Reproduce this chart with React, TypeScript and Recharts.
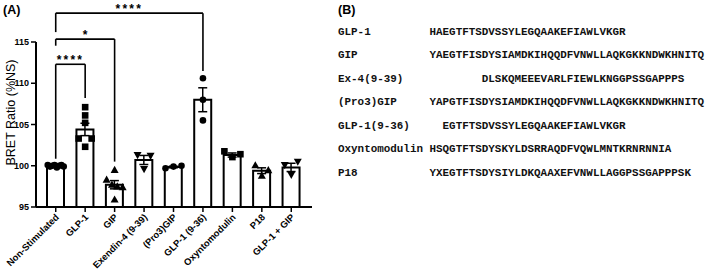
import React from 'react';
import { ComposedChart, Bar, ErrorBar, Scatter, XAxis, YAxis, ReferenceLine } from 'recharts';

// ---------- Panel A data ----------
const categories = [
  'Non-Stimulated',
  'GLP-1',
  'GIP',
  'Exendin-4 (9-39)',
  '(Pro3)GIP',
  'GLP-1 (9-36)',
  'Oxyntomodulin',
  'P18',
  'GLP-1 + GIP',
];
const means = [100.0, 104.4, 97.7, 100.7, 99.85, 108.0, 101.3, 99.4, 99.8];
const sems = [0.05, 0.75, 0.5, 0.55, 0.1, 1.45, 0.25, 0.35, 0.5];

// individual replicates (listed left-to-right as they appear)
const nonStimPoints = [100.1, 99.9, 100.0, 100.1, 99.8, 100.0, 100.1, 99.9];
const glp1Points = [107.1, 106.1, 105.2, 103.3, 103.3, 102.3];
const gipPoints = [98.3, 97.7, 99.5, 97.5, 97.4, 95.9];
const exendinPoints = [101.3, 99.6, 101.2];
const pro3GipPoints = [99.7, 99.9, 100.0];
const glp1_9_36Points = [110.6, 108.0, 105.5];
const oxyntomodulinPoints = [101.75, 101.05, 101.4];
const p18Points = [100.05, 98.8, 99.45];
const glp1GipPoints = [100.1, 98.9, 100.5];

const pointSets = [
  nonStimPoints,
  glp1Points,
  gipPoints,
  exendinPoints,
  pro3GipPoints,
  glp1_9_36Points,
  oxyntomodulinPoints,
  p18Points,
  glp1GipPoints,
];
const markerKinds = ['circle', 'square', 'triangle', 'triangleDown', 'circle', 'circle', 'square', 'triangle', 'triangleDown'];

const yTicks = [95, 100, 105, 110, 115];

// significance annotations (data units)
const bracketFrom = ['Non-Stimulated', 'Non-Stimulated', 'Non-Stimulated'];
const bracketTo = ['GLP-1 (9-36)', 'GIP', 'GLP-1'];
const bracketLevel = [118.5, 115.35, 112.3];
const bracketLeftEnd = [116.2, 114.55, 100.85];
const bracketRightEnd = [111.5, 100.5, 108.2];
const bracketText = ['****', '*', '****'];

// ---------- Panel B data ----------
const peptideNames = ['GLP-1', 'GIP', 'Ex-4(9-39)', '(Pro3)GIP', 'GLP-1(9-36)', 'Oxyntomodulin', 'P18'];
const peptideSeqs = [
  'HAEGTFTSDVSSYLEGQAAKEFIAWLVKGR',
  'YAEGTFISDYSIAMDKIHQQDFVNWLLAQKGKKNDWKHNITQ',
  'DLSKQMEEEVARLFIEWLKNGGPSSGAPPPS',
  'YAPGTFISDYSIAMDKIHQQDFVNWLLAQKGKKNDWKHNITQ',
  'EGTFTSDVSSYLEGQAAKEFIAWLVKGR',
  'HSQGTFTSDYSKYLDSRRAQDFVQWLMNTKRNRNNIA',
  'YXEGTFTSDYSIYLDKQAAXEFVNWLLAGGPSSGAPPPSK',
];
const alignGaps = [0, 0, 8, 0, 2, 0, 0];

// ---------- helpers ----------
const SANS = '"Liberation Sans", Arial, Helvetica, sans-serif';
const MONO = '"Liberation Mono", "Courier New", monospace';

// horizontal spread of replicates that share a similar value (beeswarm-like)
function spreadOffsets(vals: number[], step = 13, maxHalf = 8, tol = 0.62): number[] {
  const idx = vals.map((_, i) => i).sort((a, b) => vals[a] - vals[b]);
  const rows: number[][] = [];
  let cur: number[] = [];
  idx.forEach((i) => {
    if (cur.length && vals[i] - vals[cur[cur.length - 1]] > tol) {
      rows.push(cur);
      cur = [];
    }
    cur.push(i);
  });
  if (cur.length) rows.push(cur);
  const off = new Array(vals.length).fill(0);
  rows.forEach((r) => {
    const n = r.length;
    if (n < 2) return;
    const s = Math.min(step, (2 * maxHalf) / (n - 1));
    const ordered = [...r].sort((a, b) => a - b);
    ordered.forEach((i, k) => {
      off[i] = (k - (n - 1) / 2) * s;
    });
  });
  return off;
}

const summary = categories.map((name, i) => ({ name, mean: means[i], sem: sems[i] }));
const scatterSets = pointSets.map((vals, i) => {
  const offs = spreadOffsets(vals);
  return vals.map((v, j) => ({ name: categories[i], value: v, dx: offs[j] }));
});

const makeShape = (kind: string) => (p: any) => {
  if (p.cx == null || p.cy == null) return <g />;
  const cx = p.cx + (p.payload?.dx ?? 0);
  const cy = p.cy;
  if (kind === 'circle') return <circle cx={cx} cy={cy} r={3.3} fill="#000" />;
  if (kind === 'square') return <rect x={cx - 3.3} y={cy - 3.3} width={6.6} height={6.6} fill="#000" />;
  if (kind === 'triangle')
    return <polygon points={`${cx},${cy - 4.2} ${cx - 4},${cy + 3} ${cx + 4},${cy + 3}`} fill="#000" />;
  return <polygon points={`${cx},${cy + 4.2} ${cx - 4},${cy - 3} ${cx + 4},${cy - 3}`} fill="#000" />;
};

const XTick = (props: any) => {
  const { x, y, payload } = props;
  return (
    <g transform={`translate(${x + 1.5},${y + 1.5})`}>
      <text
        transform="rotate(-45)"
        textAnchor="end"
        dy="0.35em"
        fontSize={9.4}
        fontWeight="bold"
        fontFamily={SANS}
        fill="#000"
      >
        {payload.value}
      </text>
    </g>
  );
};

const makeBracketLabel = (txt: string) => (props: any) => {
  const vb = props.viewBox;
  if (!vb) return null;
  return (
    <text
      x={vb.x + vb.width / 2}
      y={vb.y - 0.5}
      textAnchor="middle"
      fontSize={12}
      fontWeight="bold"
      letterSpacing={txt.length > 1 ? 2.2 : 0}
      fontFamily={SANS}
      fill="#000"
    >
      {txt}
    </text>
  );
};

export default function App() {
  const lineStyle = { stroke: '#000', strokeWidth: 1.6 };
  return (
    <div style={{ position: 'absolute', left: 0, top: 0, width: 709, height: 270, background: '#fff', overflow: 'hidden' }}>
      <div style={{ position: 'absolute', left: 0, top: 0 }}>
        <ComposedChart width={330} height={270} data={summary} margin={{ top: 42, right: 18, bottom: 0, left: 0 }}>
          <XAxis
            dataKey="name"
            type="category"
            allowDuplicatedCategory={false}
            height={63}
            padding={{ left: 5, right: 6 }}
            axisLine={{ stroke: '#000', strokeWidth: 2 }}
            tickLine={{ stroke: '#000', strokeWidth: 1.5 }}
            tickSize={5}
            interval={0}
            tick={<XTick />}
          />
          <YAxis
            type="number"
            domain={[95, 115]}
            ticks={yTicks}
            allowDataOverflow
            width={36}
            axisLine={{ stroke: '#000', strokeWidth: 2 }}
            tickLine={{ stroke: '#000', strokeWidth: 1.5 }}
            tickSize={5}
            tick={{ fontSize: 9, fontWeight: 'bold', fill: '#000', fontFamily: SANS }}
          />
          <Bar
            dataKey="mean"
            fill="#fff"
            stroke="#000"
            strokeWidth={2}
            barSize={17}
            isAnimationActive={false}
          >
            <ErrorBar dataKey="sem" width={4.5} stroke="#000" strokeWidth={1.5} direction="y" />
          </Bar>
          {scatterSets.map((set, i) => (
            <Scatter
              key={categories[i]}
              data={set}
              dataKey="value"
              shape={makeShape(markerKinds[i])}
              isAnimationActive={false}
            />
          ))}
          {bracketText.map((txt, i) => (
            <ReferenceLine
              key={`h${i}`}
              segment={[
                { x: bracketFrom[i], y: bracketLevel[i] },
                { x: bracketTo[i], y: bracketLevel[i] },
              ]}
              ifOverflow="visible"
              {...lineStyle}
              label={{ value: txt, content: makeBracketLabel(txt) }}
            />
          ))}
          {bracketText.map((_, i) => (
            <ReferenceLine
              key={`l${i}`}
              segment={[
                { x: bracketFrom[i], y: bracketLevel[i] },
                { x: bracketFrom[i], y: bracketLeftEnd[i] },
              ]}
              ifOverflow="visible"
              {...lineStyle}
            />
          ))}
          {bracketText.map((_, i) => (
            <ReferenceLine
              key={`r${i}`}
              segment={[
                { x: bracketTo[i], y: bracketLevel[i] },
                { x: bracketTo[i], y: bracketRightEnd[i] },
              ]}
              ifOverflow="visible"
              {...lineStyle}
            />
          ))}
        </ComposedChart>
      </div>
      <svg
        width={709}
        height={270}
        style={{ position: 'absolute', left: 0, top: 0, pointerEvents: 'none' }}
      >
        <text x={3} y={13.5} fontSize={12.5} fontWeight="bold" fontFamily={SANS} fill="#000">
          (A)
        </text>
        <text
          x={11}
          y={112.5}
          transform="rotate(-90 11 112.5)"
          textAnchor="middle"
          dominantBaseline="central"
          fontSize={12.5}
          fontFamily={SANS}
          fill="#000"
        >
          BRET Ratio (%NS)
        </text>
        <text x={338} y={13.5} fontSize={12.5} fontWeight="bold" fontFamily={SANS} fill="#000">
          (B)
        </text>
        {peptideNames.map((name, i) => (
          <text
            key={name}
            x={338}
            y={34.8 + i * 23.5}
            fontSize={10.9}
            fontWeight="bold"
            fontFamily={MONO}
            fill="#111"
            style={{ whiteSpace: 'pre' }}
          >
            {name.padEnd(14, ' ') + ' '.repeat(alignGaps[i]) + peptideSeqs[i]}
          </text>
        ))}
      </svg>
    </div>
  );
}
